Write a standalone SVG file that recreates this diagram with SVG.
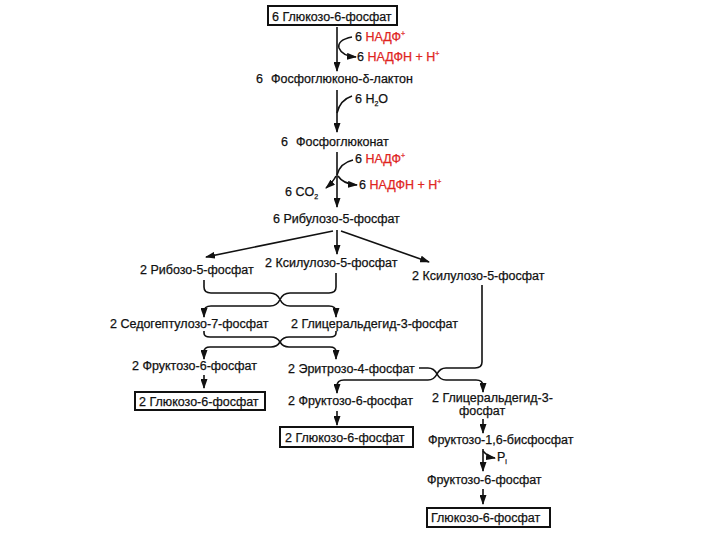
<svg xmlns="http://www.w3.org/2000/svg" width="720" height="540" viewBox="0 0 720 540">
<style>
text{font-family:"Liberation Sans",Arial,sans-serif;font-size:12.5px;fill:#111;stroke:#111;stroke-width:0.25}
.r{fill:#e0251f;stroke:#e0251f}
.sup{font-size:7px}
.sub{font-size:7px}
.box{fill:#fff;stroke:#111;stroke-width:2}
.ln{fill:none;stroke:#111;stroke-width:1.6}
.ar{fill:none;stroke:#111;stroke-width:1.6;marker-end:url(#ah)}
</style>
<defs>
<marker id="ah" markerUnits="userSpaceOnUse" markerWidth="10" markerHeight="7" refX="9" refY="3.5" orient="auto">
<path d="M0,0 L10,3.5 L0,7 z" fill="#111"/>
</marker>
</defs>
<rect width="720" height="540" fill="#fff"/>

<g id="connectors">
<path class="ar" d="M337,27 L337,71"/>
<path class="ar" d="M352,37 Q337,40 339,48 Q342,56 356,57"/>
<path class="ar" d="M337,90 L337,132"/>
<path class="ln" d="M352,96 Q340,100 337,113"/>
<path class="ar" d="M337,152 L337,207"/>
<path class="ln" d="M353,160 Q340,163 337,175"/>
<path class="ar" d="M338,176 Q343,184 357,185"/>
<path class="ar" d="M336,176 Q333,182 326,188"/>
<path class="ar" d="M333,231 L206,257"/>
<path class="ar" d="M337,230 L337,254"/>
<path class="ar" d="M341,231 L429,262"/>
<path class="ln" d="M204,280 L204,287 Q204,293 211,293 L270,293 Q277,293 280,299.5"/>
<path class="ln" d="M336,273 L336,287 Q336,293 329,293 L290,293 Q283,293 280,299.5"/>
<path class="ar" d="M280,299.5 Q277,306 270,306 L211,306 Q204,306 204,312 L204,317"/>
<path class="ar" d="M280,299.5 Q283,306 290,306 L329,306 Q336,306 336,312 L336,317"/>
<path class="ln" d="M204,331 L204,333 Q204,337 210,337 L271,337 Q277,337 280,342"/>
<path class="ln" d="M336,331 L336,333 Q336,337 330,337 L289,337 Q283,337 280,342"/>
<path class="ar" d="M280,342 Q277,347 271,347 L210,347 Q204,347 204,352 L204,359"/>
<path class="ar" d="M280,342 Q283,347 289,347 L330,347 Q336,347 336,352 L336,359"/>
<path class="ln" d="M482,285 L482,362 Q482,368 475,368 L446,368 Q440,368 437,374"/>
<path class="ln" d="M419,368 L428,368 Q434,368 437,374"/>
<path class="ar" d="M437,374 Q434,380 428,380 L344,380 Q337,380 337,386 L337,393"/>
<path class="ar" d="M437,374 Q440,380 446,380 L476,380 Q483,380 483,386 L483,392"/>
<path class="ar" d="M204,375 L204,388"/>
<path class="ar" d="M337,411 L337,425"/>
<path class="ar" d="M483,419 L483,433"/>
<path class="ar" d="M483,449 L483,471"/>
<path class="ar" d="M483,451 Q488,457 495,458"/>
<path class="ar" d="M483,489 L483,504"/>
</g>

<g id="n-g6p-top">
<rect class="box" x="268" y="6" width="129" height="19"/>
<text x="272" y="21">6 Глюкозо-6-фосфат</text>
</g>
<g id="c-nadp1">
<text x="355" y="41">6 <tspan class="r">НАДФ</tspan><tspan class="r sup" dy="-5">+</tspan></text>
<text x="357" y="61">6 <tspan class="r">НАДФН + Н</tspan><tspan class="r sup" dy="-5">+</tspan></text>
</g>
<g id="n-lactone">
<text x="256" y="83">6<tspan x="271">Фосфоглюконо-δ-лактон</tspan></text>
</g>
<g id="c-h2o">
<text x="355" y="103">6 H<tspan class="sub" dy="3">2</tspan><tspan dy="-3">O</tspan></text>
</g>
<g id="n-gluconate">
<text x="281" y="146">6<tspan x="296">Фосфоглюконат</tspan></text>
</g>
<g id="c-nadp2">
<text x="355" y="163">6 <tspan class="r">НАДФ</tspan><tspan class="r sup" dy="-5">+</tspan></text>
<text x="359" y="189">6 <tspan class="r">НАДФН + Н</tspan><tspan class="r sup" dy="-5">+</tspan></text>
<text x="285" y="196">6 CO<tspan class="sub" dy="3">2</tspan></text>
</g>
<g id="n-ribulose">
<text x="273" y="223">6 Рибулозо-5-фосфат</text>
</g>
<g id="n-ribose">
<text x="140" y="274">2 Рибозо-5-фосфат</text>
</g>
<g id="n-xylulose1">
<text x="265" y="267">2 Ксилулозо-5-фосфат</text>
</g>
<g id="n-xylulose2">
<text x="412" y="280">2 Ксилулозо-5-фосфат</text>
</g>
<g id="n-sedo">
<text x="110" y="328">2 Седогептулозо-7-фосфат</text>
</g>
<g id="n-gap1">
<text x="291" y="328">2 Глицеральдегид-3-фосфат</text>
</g>
<g id="n-f6p1">
<text x="132" y="370">2 Фруктозо-6-фосфат</text>
</g>
<g id="n-e4p">
<text x="288" y="373">2 Эритрозо-4-фосфат</text>
</g>
<g id="n-g6p-left">
<rect class="box" x="135" y="392" width="130" height="18"/>
<text x="139" y="406">2 Глюкозо-6-фосфат</text>
</g>
<g id="n-f6p2">
<text x="288" y="405">2 Фруктозо-6-фосфат</text>
</g>
<g id="n-gap2">
<text x="432" y="402">2 Глицеральдегид-3-</text>
<text x="459" y="415">фосфат</text>
</g>
<g id="n-g6p-mid">
<rect class="box" x="280" y="427" width="133" height="20"/>
<text x="285" y="442">2 Глюкозо-6-фосфат</text>
</g>
<g id="n-fbp">
<text x="428" y="444">Фруктозо-1,6-бисфосфат</text>
</g>
<g id="c-pi">
<text x="497" y="461">P<tspan class="sub" dy="3">i</tspan></text>
</g>
<g id="n-f6p3">
<text x="427" y="484">Фруктозо-6-фосфат</text>
</g>
<g id="n-g6p-bottom">
<rect class="box" x="427" y="508" width="123" height="19"/>
<text x="431" y="522">Глюкозо-6-фосфат</text>
</g>
</svg>
